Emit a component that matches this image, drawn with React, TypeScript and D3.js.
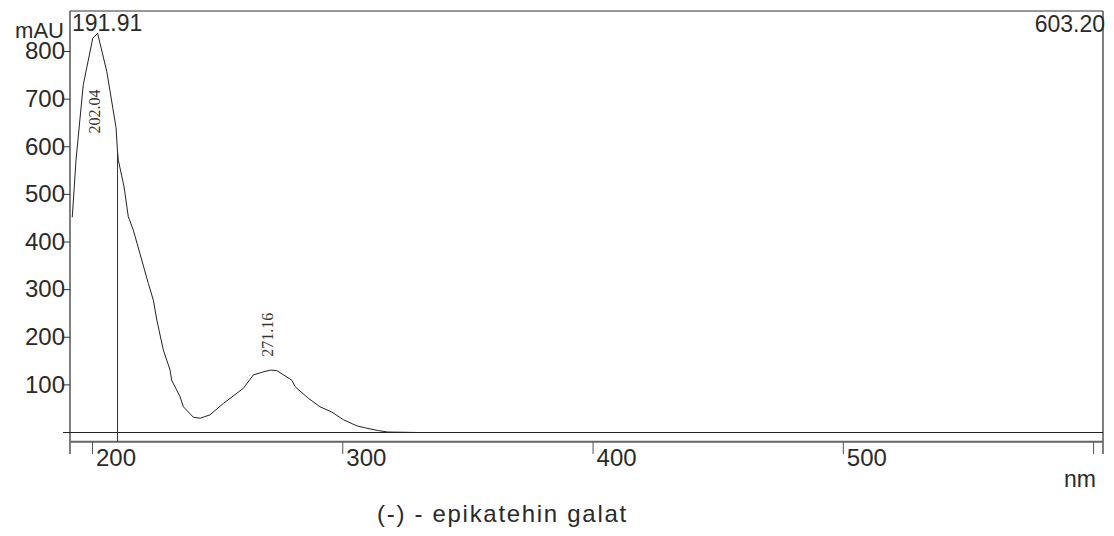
import React from "react";
import * as d3 from "d3";

// Spectrum data (nm, mAU)
const wavelengths = [
  191.91, 193.4, 196.3, 200.1, 202.04, 205.7, 209.4, 210.0, 210.3, 212.6, 214.3,
  216.3, 222.3, 224.3, 225.7, 228.3, 231.0, 231.6, 235.0, 236.3, 240.3, 243.0,
  246.9, 252.3, 260.3, 264.3, 268.0, 271.16, 273.6, 279.6, 281.0, 286.2, 290.9,
  295.6, 300.2, 305.6, 309.6, 314.2, 318.0, 330.0,
];
const absorbance = [
  452, 572, 730, 828, 838, 758, 640, 588, 572, 516, 453,
  425, 313, 278, 236, 173, 131, 110, 75, 54, 32, 30,
  37, 61, 93, 121, 127, 131, 130, 110, 96, 72, 54,
  43, 27, 14, 9, 4, 1, 0,
];
const yTicks = [100, 200, 300, 400, 500, 600, 700, 800];
const xTicks = [200, 300, 400, 500, 600];
const xTickLabels = ["200", "300", "400", "500", ""];
const peakNm = [202.04, 271.16];
const peakLabelAt = [674, 205]; // label centre, in mAU
const dropLineNm = 210.0;
const rangeStart = "191.91";
const rangeEnd = "603.20";
const caption = "(-) - epikatehin galat";

export default function App() {
  const W = 1114;
  const H = 536;
  const left = 70;
  const right = 1103;
  const top = 11;
  const axisY = 441.7;

  const x = d3.scaleLinear().domain([191.0, 603.76]).range([left, right]);
  const y = d3.scaleLinear().domain([0, 800]).range([432.5, 51.5]);

  const pts = wavelengths.map((w, i) => [w, absorbance[i]] as [number, number]);
  const line = d3
    .line<[number, number]>()
    .x((d) => x(d[0]))
    .y((d) => y(d[1]))
    .curve(d3.curveLinear);

  const interp = (nm: number) => {
    const i = d3.bisectLeft(wavelengths, nm);
    if (i <= 0) return absorbance[0];
    const x0 = wavelengths[i - 1], x1 = wavelengths[i];
    const t = (nm - x0) / (x1 - x0);
    return absorbance[i - 1] + t * (absorbance[i] - absorbance[i - 1]);
  };

  const font = "'Liberation Sans', Arial, sans-serif";
  const textColor = "#2a2a2a";

  return (
    <svg
      width={W}
      height={H}
      style={{ position: "absolute", left: 0, top: 0, background: "#fff" }}
    >
      {/* frame */}
      <line x1={left} x2={right} y1={top} y2={top} stroke="#333" strokeWidth={1} />
      <line x1={left} x2={left} y1={top} y2={454} stroke="#555" strokeWidth={1.5} />
      <line x1={right} x2={right} y1={top} y2={454} stroke="#555" strokeWidth={1.5} />
      {/* bottom axis */}
      <line x1={left} x2={right} y1={axisY} y2={axisY} stroke="#666" strokeWidth={2} />
      {/* zero line */}
      <line x1={63} x2={right} y1={y(0)} y2={y(0)} stroke="#222" strokeWidth={1} />

      {/* y ticks */}
      {yTicks.map((t) => (
        <g key={t}>
          <line x1={64} x2={left} y1={y(t)} y2={y(t)} stroke="#333" strokeWidth={1} />
          <text
            x={65}
            y={y(t) + 7.8}
            textAnchor="end"
            fontFamily={font}
            fontSize={24}
            fill={textColor}
          >
            {t}
          </text>
        </g>
      ))}

      {/* x ticks */}
      {xTicks.map((t, i) => (
        <g key={t}>
          <line x1={x(t)} x2={x(t)} y1={axisY} y2={454} stroke="#555" strokeWidth={1} />
          <text
            x={x(t) + 3.5}
            y={466}
            fontFamily={font}
            fontSize={24}
            fill={textColor}
          >
            {xTickLabels[i]}
          </text>
        </g>
      ))}

      {/* axis units and range labels */}
      <text x={64} y={38} textAnchor="end" fontFamily={font} fontSize={22} fill={textColor}>
        mAU
      </text>
      <text x={72} y={31} fontFamily={font} fontSize={23} fill={textColor}>
        {rangeStart}
      </text>
      <text x={1105} y={32} textAnchor="end" fontFamily={font} fontSize={23} fill={textColor}>
        {rangeEnd}
      </text>
      <text x={1096} y={487} textAnchor="end" fontFamily={font} fontSize={23} fill={textColor}>
        nm
      </text>

      {/* drop line */}
      <line
        x1={x(dropLineNm)}
        x2={x(dropLineNm)}
        y1={y(interp(dropLineNm))}
        y2={axisY}
        stroke="#333"
        strokeWidth={1}
      />

      {/* spectrum */}
      <path d={line(pts) || ""} fill="none" stroke="#222" strokeWidth={1} />

      {/* peak labels */}
      {peakNm.map((p, i) => {
        const px = x(p) + 2.8;
        const py = y(peakLabelAt[i]);
        return (
          <text
            key={p}
            x={0}
            y={0}
            transform={`translate(${px},${py}) rotate(-90)`}
            textAnchor="middle"
            fontFamily="'Liberation Serif', 'Times New Roman', serif"
            fontSize={16}
            fill="#333"
          >
            {p.toFixed(2)}
          </text>
        );
      })}

      {/* caption */}
      <text
        x={377}
        y={521.5}
        fontFamily={font}
        fontSize={24}
        letterSpacing={1.7}
        fill={textColor}
      >
        {caption}
      </text>
    </svg>
  );
}
